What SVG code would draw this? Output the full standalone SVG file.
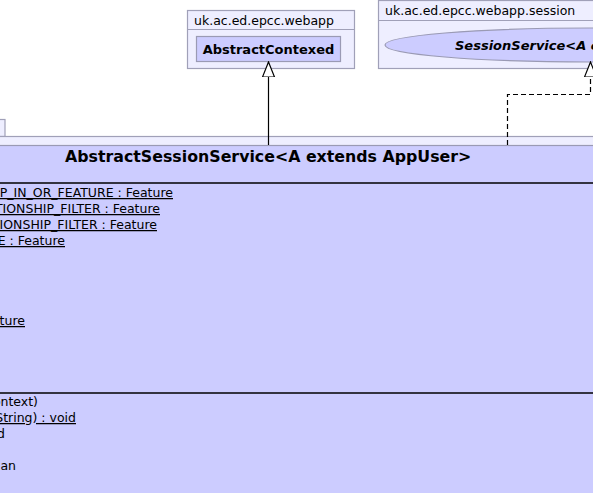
<svg xmlns="http://www.w3.org/2000/svg" width="593" height="493" viewBox="0 0 593 493">
<defs>
<style>
.pkg{fill:#EEEEFF;stroke:#A0A0B8;stroke-width:1.2}
.cls{fill:#CCCCFF;stroke:#9A9AB4;stroke-width:1.2}
.sep{stroke:#000;stroke-width:1.5}
.plabel{font-family:"DejaVu Sans",sans-serif;font-size:12.5px;fill:#000}
.cname{font-family:"DejaVu Sans",sans-serif;font-size:13px;font-weight:bold;fill:#000}
.title{font-family:"DejaVu Sans",sans-serif;font-size:15.8px;font-weight:bold;fill:#000}
.mem{font-family:"DejaVu Sans",sans-serif;font-size:12.5px;fill:#000}
.u{text-decoration:underline}
.edge{fill:none;stroke:#000;stroke-width:1.2}
.dash{stroke-dasharray:5,3}
</style>
<marker id="tri" viewBox="0 0 16 14" refX="15" refY="7" markerWidth="16" markerHeight="14" markerUnits="userSpaceOnUse" orient="auto">
<path d="M15,7 L0,1 L0,13 Z" fill="#fff" stroke="#000" stroke-width="1.2"/>
</marker>
</defs>
<rect width="593" height="493" fill="#fff"/>

<g id="pkg-webapp">
<rect class="pkg" x="187.5" y="10.5" width="167" height="58"/>
<line x1="187.5" y1="29.5" x2="354.5" y2="29.5" stroke="#A0A0B8" stroke-width="1.2"/>
<text class="plabel" x="194" y="25">uk.ac.ed.epcc.webapp</text>
</g>
<g id="AbstractContexed">
<rect class="cls" x="196.5" y="36.5" width="144" height="25"/>
<text class="cname" x="268.5" y="54" text-anchor="middle">AbstractContexed</text>
</g>

<g id="pkg-session">
<rect class="pkg" x="378.5" y="0.5" width="230" height="68"/>
<line x1="378.5" y1="20.5" x2="600" y2="20.5" stroke="#A0A0B8" stroke-width="1.2"/>
<text class="plabel" x="385" y="15">uk.ac.ed.epcc.webapp.session</text>
</g>
<g id="SessionService">
<ellipse class="cls" cx="590" cy="45" rx="205" ry="17"/>
<text class="cname" x="455" y="49.5" font-style="italic">SessionService&lt;A extends AppUser&gt;</text>
</g>

<g id="pkg-left">
<rect class="pkg" x="-20" y="119.5" width="25" height="17"/>
<rect class="pkg" x="-20" y="136.5" width="640" height="400"/>
</g>

<g id="AbstractSessionService">
<rect class="cls" x="-20" y="145.5" width="640" height="380"/>
<text class="title" x="65" y="162">AbstractSessionService&lt;A extends AppUser&gt;</text>
<line class="sep" x1="-20" y1="183" x2="620" y2="183"/>
<text class="mem u" x="173" y="197" text-anchor="end">IP_IN_OR_FEATURE : Feature</text>
<text class="mem u" x="160" y="213" text-anchor="end">RELATIONSHIP_FILTER : Feature</text>
<text class="mem u" x="157" y="229" text-anchor="end">ELATIONSHIP_FILTER : Feature</text>
<text class="mem u" x="65" y="245" text-anchor="end">E : Feature</text>
<text class="mem u" x="25" y="325" text-anchor="end">ature</text>
<line class="sep" x1="-20" y1="393" x2="620" y2="393"/>
<text class="mem" x="38" y="406" text-anchor="end">ontext)</text>
<text class="mem u" x="76" y="422" text-anchor="end">(String) : void</text>
<text class="mem" x="5" y="438" text-anchor="end">d</text>
<text class="mem" x="16" y="470" text-anchor="end">an</text>
</g>

<g id="connectors">
<path class="edge" d="M268.5,145 L268.5,62" marker-end="url(#tri)"/>
<path class="edge dash" d="M507.5,145 L507.5,94.5 L590.5,94.5 L590.5,62" marker-end="url(#tri)"/>
</g>
</svg>
